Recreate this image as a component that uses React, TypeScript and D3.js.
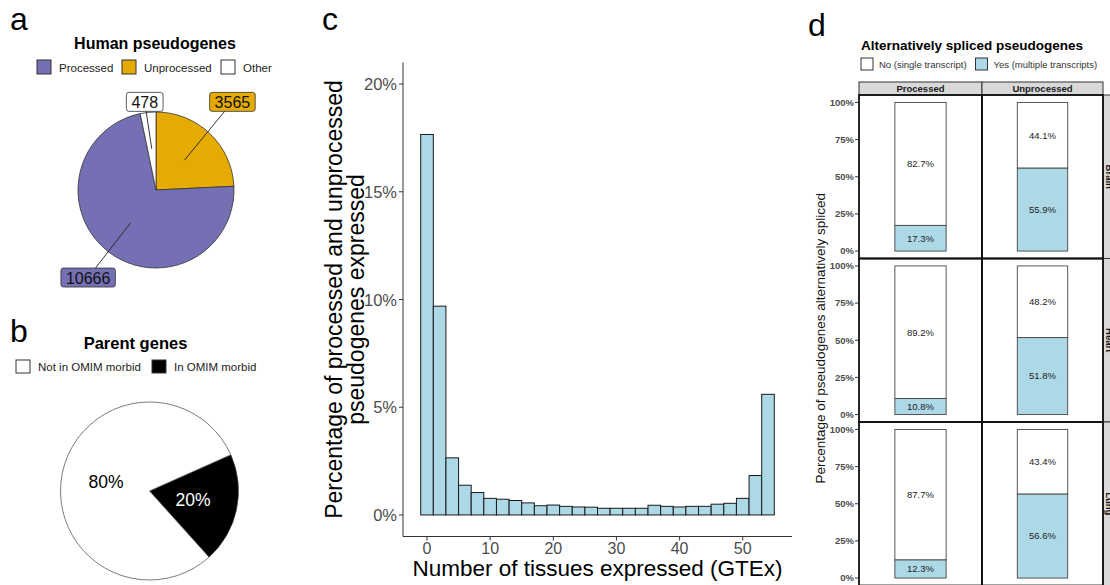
import React from 'react';
import * as d3 from 'd3';

// ---------- Panel a: Human pseudogenes ----------
const pseudoCategories = ['Processed', 'Unprocessed', 'Other'];
const pseudoCounts = [10666, 3565, 478];
const pseudoColors = ['#7570B3', '#E6AB02', '#FFFFFF'];
const pseudoPieOrder = [1, 0, 2]; // clockwise from 12 o'clock

// ---------- Panel b: Parent genes ----------
const parentCategories = ['Not in OMIM morbid', 'In OMIM morbid'];
const parentPercents = [80, 20];
const parentColors = ['#FFFFFF', '#000000'];
const parentLabelColors = ['#000000', '#FFFFFF'];

// ---------- Panel c: histogram ----------
const binCenters = [0, 2, 4, 6, 8, 10, 12, 14, 16, 18, 20, 22, 24, 26, 28, 30, 32, 34, 36, 38, 40, 42, 44, 46, 48, 50, 52, 54];
const binPercents = [17.66, 9.69, 2.65, 1.38, 1.04, 0.77, 0.73, 0.67, 0.56, 0.43, 0.46, 0.40, 0.37, 0.36, 0.31, 0.31, 0.31, 0.31, 0.45, 0.40, 0.37, 0.40, 0.40, 0.50, 0.54, 0.77, 1.83, 5.60];
const histXTicks = [0, 10, 20, 30, 40, 50];
const histYTicks = [0, 5, 10, 15, 20];

// ---------- Panel d: alternatively spliced ----------
const tissues = ['Brain', 'Heart', 'Lung'];
const pseudoTypes = ['Processed', 'Unprocessed'];
const splicedYes = [[17.3, 55.9], [10.8, 51.8], [12.3, 56.6]];
const splicedNo = [[82.7, 44.1], [89.2, 48.2], [87.7, 43.4]];
const splicedLegend = ['No (single transcript)', 'Yes (multiple transcripts)'];
const splicedColors = ['#FFFFFF', '#ADD8E6'];
const pctTicks = [0, 25, 50, 75, 100];

const FONT = "'Liberation Sans', Arial, Helvetica, sans-serif";

function PanelA() {
  const cx = 156, cy = 190, r = 78;
  const pie = d3.pie<number>().sort(null).value((i) => pseudoCounts[i]);
  const arcs = pie(pseudoPieOrder);
  const arc = d3.arc<d3.PieArcDatum<number>>().innerRadius(0).outerRadius(r);
  const anchorArc = d3.arc<d3.PieArcDatum<number>>().innerRadius(0).outerRadius(r * 1.06);
  const labelArc = d3.arc<d3.PieArcDatum<number>>().innerRadius(r * 1.42).outerRadius(r * 1.42);
  const fs = 16;
  const legendX = [37, 122, 221];
  return (
    <g>
      <text x={10} y={30} fontSize={32} fontFamily={FONT}>a</text>
      <text x={155} y={49} fontSize={16} fontWeight="bold" textAnchor="middle" fontFamily={FONT}>Human pseudogenes</text>
      {pseudoCategories.map((c, i) => (
        <g key={c}>
          <rect x={legendX[i]} y={60} width={14} height={14} fill={pseudoColors[i]} stroke="#333" strokeWidth={1} />
          <text x={legendX[i] + 22} y={71.5} fontSize={11.5} fill="#222" fontFamily={FONT}>{c}</text>
        </g>
      ))}
      <g transform={`translate(${cx},${cy})`}>
        {arcs.map((a) => (
          <path key={a.data} d={arc(a) || ''} fill={pseudoColors[a.data]} stroke="#333" strokeWidth={0.8} />
        ))}
        {arcs.map((a) => {
          const [ax, ay] = anchorArc.centroid(a);
          let [lx, ly] = labelArc.centroid(a);
          ly = Math.max(ly, -r * 1.13);
          if (ly < 0) ly = Math.min(ly, -r * 1.13);
          const label = String(pseudoCounts[a.data]);
          const w = label.length * 0.556 * fs + 10;
          const h = 19;
          return (
            <g key={'l' + a.data}>
              <line x1={ax} y1={ay} x2={lx} y2={ly} stroke="#222" strokeWidth={0.9} />
              <rect x={lx - w / 2} y={ly - h / 2} width={w} height={h} rx={2.5} fill={pseudoColors[a.data]} stroke="#333" strokeWidth={0.8} />
              <text x={lx} y={ly + 6} fontSize={fs} textAnchor="middle" fontFamily={FONT} fill="#111">{label}</text>
            </g>
          );
        })}
      </g>
    </g>
  );
}

function PanelB() {
  const cx = 149.5, cy = 491, r = 89;
  const order = [1, 0];
  const start = (66 * Math.PI) / 180;
  const pie = d3.pie<number>().sort(null).value((i) => parentPercents[i]).startAngle(start).endAngle(start + 2 * Math.PI);
  const arcs = pie(order);
  const arc = d3.arc<d3.PieArcDatum<number>>().innerRadius(0).outerRadius(r);
  const legendX = [16, 152];
  return (
    <g>
      <text x={10} y={342} fontSize={32} fontFamily={FONT}>b</text>
      <text x={135.5} y={349} fontSize={16.5} fontWeight="bold" textAnchor="middle" fontFamily={FONT}>Parent genes</text>
      {parentCategories.map((c, i) => (
        <g key={c}>
          <rect x={legendX[i]} y={360} width={14} height={13} fill={parentColors[i]} stroke="#333" strokeWidth={1} />
          <text x={legendX[i] + 22} y={371} fontSize={11.5} fill="#222" fontFamily={FONT}>{c}</text>
        </g>
      ))}
      <g transform={`translate(${cx},${cy})`}>
        {arcs.map((a) => (
          <path key={a.data} d={arc(a) || ''} fill={parentColors[a.data]} stroke="#444" strokeWidth={0.7} />
        ))}
        {arcs.map((a) => {
          const [lx, ly] = arc.centroid(a);
          return (
            <text key={'t' + a.data} x={lx} y={ly + 6} fontSize={17.5} textAnchor="middle" fill={parentLabelColors[a.data]} fontFamily={FONT}>
              {parentPercents[a.data]}%
            </text>
          );
        })}
      </g>
    </g>
  );
}

function PanelC() {
  const left = 403, right = 792, top = 62.5, bottom = 536.5;
  const x = d3.scaleLinear().domain([-3.8, 57.8]).range([left, right]);
  const y = d3.scaleLinear().domain([-1, 21]).range([bottom, top]);
  return (
    <g fontFamily={FONT}>
      <text x={322} y={30} fontSize={32}>c</text>
      {binCenters.map((c, i) => (
        <rect key={c} x={x(c - 1)} y={y(binPercents[i])} width={x(c + 1) - x(c - 1)} height={y(0) - y(binPercents[i])}
          fill="#ADD8E6" stroke="#1a1a1a" strokeWidth={1} />
      ))}
      <line x1={left} x2={left} y1={top} y2={bottom} stroke="#333" strokeWidth={1} />
      <line x1={left} x2={right} y1={bottom} y2={bottom} stroke="#333" strokeWidth={1} />
      {histYTicks.map((t) => (
        <g key={t}>
          <line x1={left - 4} x2={left} y1={y(t)} y2={y(t)} stroke="#333" />
          <text x={left - 6} y={y(t) + 6} fontSize={16.5} textAnchor="end" fill="#4d4d4d">{t}%</text>
        </g>
      ))}
      {histXTicks.map((t) => (
        <g key={t}>
          <line x1={x(t)} x2={x(t)} y1={bottom} y2={bottom + 4} stroke="#333" />
          <text x={x(t)} y={bottom + 17} fontSize={16} textAnchor="middle" fill="#4d4d4d">{t}</text>
        </g>
      ))}
      <text x={(left + right) / 2} y={576} fontSize={22.5} textAnchor="middle" fill="#000">Number of tissues expressed (GTEx)</text>
      <g transform={`translate(342,${(top + bottom) / 2}) rotate(-90)`}>
        <text x={0} y={0} fontSize={23} textAnchor="middle" fill="#000">Percentage of processed and unprocessed</text>
        <text x={0} y={22} fontSize={23} textAnchor="middle" fill="#000">pseudogenes expressed</text>
      </g>
    </g>
  );
}

function PanelD() {
  const colEdges = [859, 982, 1103];
  const rowEdges = [95, 258.5, 422, 585.5];
  const stripTop = 82;
  const legendX = [861, 975.5];
  return (
    <g fontFamily={FONT}>
      <text x={808} y={36} fontSize={32}>d</text>
      <text x={861} y={50} fontSize={13.5} fontWeight="bold">Alternatively spliced pseudogenes</text>
      {splicedLegend.map((c, i) => (
        <g key={c}>
          <rect x={legendX[i]} y={58} width={12} height={12} fill={splicedColors[i]} stroke="#333" strokeWidth={1} />
          <text x={legendX[i] + 18} y={67.5} fontSize={9.5} fill="#333">{c}</text>
        </g>
      ))}
      {pseudoTypes.map((p, j) => (
        <g key={p}>
          <rect x={colEdges[j]} y={stripTop} width={colEdges[j + 1] - colEdges[j]} height={rowEdges[0] - stripTop} fill="#D9D9D9" stroke="#333" strokeWidth={1} />
          <text x={(colEdges[j] + colEdges[j + 1]) / 2} y={92} fontSize={9.5} fontWeight="bold" textAnchor="middle" fill="#1a1a1a">{p}</text>
        </g>
      ))}
      {tissues.map((t, r) => {
        const y = d3.scaleLinear().domain([-5, 105]).range([rowEdges[r + 1], rowEdges[r]]);
        return (
          <g key={t}>
            <rect x={colEdges[2]} y={rowEdges[r]} width={20} height={rowEdges[r + 1] - rowEdges[r]} fill="#D9D9D9" stroke="#333" strokeWidth={1} />
            <text transform={`translate(${colEdges[2] + 3},${(rowEdges[r] + rowEdges[r + 1]) / 2}) rotate(90)`} fontSize={9.5} fontWeight="bold" textAnchor="middle" fill="#1a1a1a">{t}</text>
            {pseudoTypes.map((p, j) => {
              const x = d3.scaleLinear().domain([0.4, 1.6]).range([colEdges[j], colEdges[j + 1]]);
              const yes = splicedYes[r][j];
              const no = splicedNo[r][j];
              return (
                <g key={p}>
                  <rect x={x(0.75)} y={y(yes)} width={x(1.25) - x(0.75)} height={y(0) - y(yes)} fill={splicedColors[1]} stroke="#444" strokeWidth={0.9} />
                  <rect x={x(0.75)} y={y(yes + no)} width={x(1.25) - x(0.75)} height={y(yes) - y(yes + no)} fill={splicedColors[0]} stroke="#444" strokeWidth={0.9} />
                  <text x={x(1)} y={y(yes / 2) + 3.3} fontSize={9.5} textAnchor="middle" fill="#222">{yes}%</text>
                  <text x={x(1)} y={y(yes + no / 2) + 3.3} fontSize={9.5} textAnchor="middle" fill="#222">{no}%</text>
                  <rect x={colEdges[j]} y={rowEdges[r]} width={colEdges[j + 1] - colEdges[j]} height={rowEdges[r + 1] - rowEdges[r]} fill="none" stroke="#111" strokeWidth={1.8} />
                </g>
              );
            })}
            {pctTicks.map((tk) => (
              <g key={tk}>
                <line x1={colEdges[0] - 4} x2={colEdges[0]} y1={y(tk)} y2={y(tk)} stroke="#333" />
                <text x={colEdges[0] - 5} y={y(tk) + 3.3} fontSize={9.5} fontWeight="bold" textAnchor="end" fill="#4d4d4d">{tk}%</text>
              </g>
            ))}
          </g>
        );
      })}
      <text transform={`translate(825,${(rowEdges[0] + rowEdges[3]) / 2 - 2}) rotate(-90)`} fontSize={13.5} textAnchor="middle" fill="#111">
        Percentage of pseudogenes alternatively spliced
      </text>
    </g>
  );
}

export default function App() {
  return (
    <svg width={1110} height={585} style={{ position: 'absolute', left: 0, top: 0, background: '#fff' }} fontFamily={FONT}>
      <rect x={0} y={0} width={1110} height={585} fill="#fff" />
      <PanelA />
      <PanelB />
      <PanelC />
      <PanelD />
    </svg>
  );
}
